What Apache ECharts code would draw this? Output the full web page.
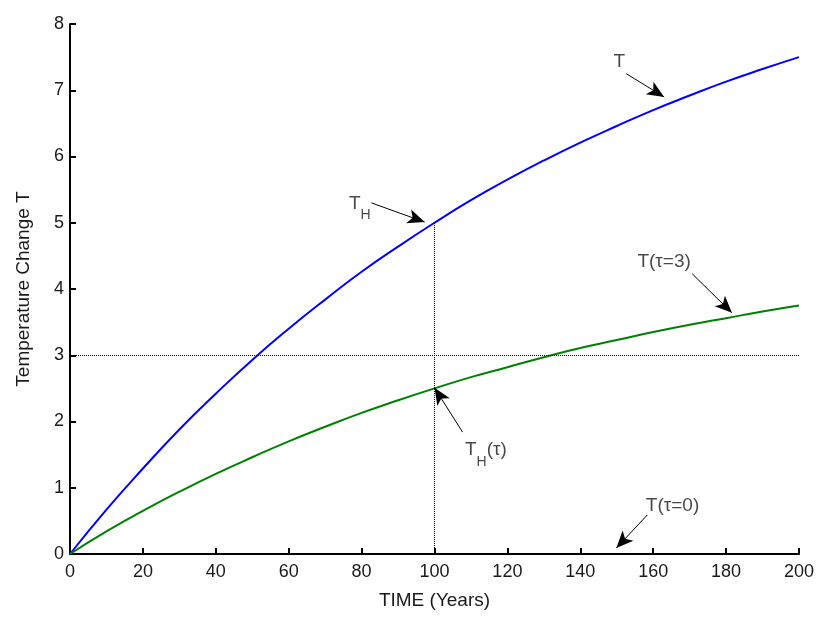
<!DOCTYPE html>
<html><head><meta charset="utf-8">
<script src="https://cdn.jsdelivr.net/npm/echarts@6/dist/echarts.min.js"></script>
<style>html,body{margin:0;padding:0;background:#fff}#c{width:817px;height:624px}</style>
</head><body><div id="c"></div>
<script>
// Data
const years = [0,10,20,30,40,50,60,70,80,90,100,110,120,130,140,150,160,170,180,190,200];
const tempT = [0,0.67,1.29,1.88,2.42,2.93,3.40,3.84,4.26,4.64,5.00,5.34,5.65,5.94,6.21,6.46,6.70,6.92,7.13,7.32,7.50];
const tempTau3 = [0,0.34,0.65,0.94,1.21,1.46,1.70,1.92,2.13,2.32,2.50,2.67,2.82,2.97,3.11,3.23,3.35,3.46,3.56,3.66,3.75];
const xTicks = [0,20,40,60,80,100,120,140,160,180,200];
const yTicks = [0,1,2,3,4,5,6,7,8];
// annotation arrows: [fromX, fromY, toX, toY]
const arrows = [
  [152.6,7.25,163.0,6.90],
  [82.7,5.30,97.3,5.01],
  [170.7,4.23,181.6,3.64],
  [107.7,1.84,100.0,2.51],
  [158.4,0.59,149.9,0.09]
];
// annotation labels: [x, y, text-key]
const labels = [
  [150.7,7.43,'T'],
  [79.5,5.29,'TH'],
  [163.0,4.41,'T(τ=3)'],
  [114.1,1.57,'THtau'],
  [165.3,0.73,'T(τ=0)']
];
const refY = 3, refX = 100, refXTop = 5;

const font = 'Liberation Sans, Arial, Helvetica, sans-serif';
const txt = '#1a1a1a';
const chart = echarts.init(document.getElementById('c'));
const seriesData = (ys) => years.map((x,i)=>[x,ys[i]]);
chart.setOption({
  animation:false,
  grid:{left:70,right:17,top:24,bottom:70},
  xAxis:{type:'value',min:xTicks[0],max:xTicks[xTicks.length-1],interval:xTicks[1]-xTicks[0],
    name:'TIME (Years)',nameLocation:'middle',nameGap:37,
    nameTextStyle:{fontFamily:font,fontSize:19,color:txt},
    axisLine:{lineStyle:{color:'#000',width:2}},
    axisTick:{inside:true,length:6,lineStyle:{color:'#000',width:2}},
    axisLabel:{fontFamily:font,fontSize:18,color:txt,margin:9},
    splitLine:{show:false}},
  yAxis:{type:'value',min:yTicks[0],max:yTicks[yTicks.length-1],interval:yTicks[1]-yTicks[0],
    name:'Temperature Change T',nameLocation:'middle',nameGap:37,
    nameTextStyle:{fontFamily:font,fontSize:19,color:txt},
    axisLine:{lineStyle:{color:'#000',width:2}},
    axisTick:{inside:true,length:6,lineStyle:{color:'#000',width:2}},
    axisLabel:{fontFamily:font,fontSize:18,color:txt,margin:6},
    splitLine:{show:false}},
  series:[
    {type:'line',data:seriesData(tempT),smooth:true,showSymbol:false,
     lineStyle:{color:'#0000ff',width:2},z:3},
    {type:'line',data:seriesData(tempTau3),smooth:true,showSymbol:false,
     lineStyle:{color:'#008000',width:2},z:3},
    {type:'line',data:[],silent:true,
     markLine:{silent:true,symbol:['none','none'],label:{show:false},
       lineStyle:{color:'#000',type:'dotted',width:1},
       data:[
         [{coord:[0,refY]},{coord:[200,refY]}],
         [{coord:[refX,0]},{coord:[refX,refXTop]}]
       ]}},
    {type:'line',data:[],silent:true,
     markLine:{silent:true,symbol:['none','arrow'],symbolSize:[11,17],label:{show:false},
       lineStyle:{color:'#000',type:'solid',width:1},
       data:arrows.map(a=>[{coord:[a[0],a[1]]},{coord:[a[2],a[3]]}])}},
    {type:'scatter',symbolSize:0,silent:true,z:5,
     data:labels.map(l=>[l[0],l[1],l[2]]),
     label:{show:true,position:'inside',color:txt,fontFamily:font,fontSize:19,
       formatter:p=>{
         const k=p.data[2];
         if(k==='TH') return '{m|T}{s|H}';
         if(k==='THtau') return '{m|T}{s|H}{m|(τ)}';
         return '{m|'+k+'}';
       },
       rich:{m:{fontFamily:font,fontSize:19,color:txt,lineHeight:22},
             s:{fontFamily:font,fontSize:14,color:txt,padding:[24,0,0,0],lineHeight:22}}}}
  ]
});
</script></body></html>
